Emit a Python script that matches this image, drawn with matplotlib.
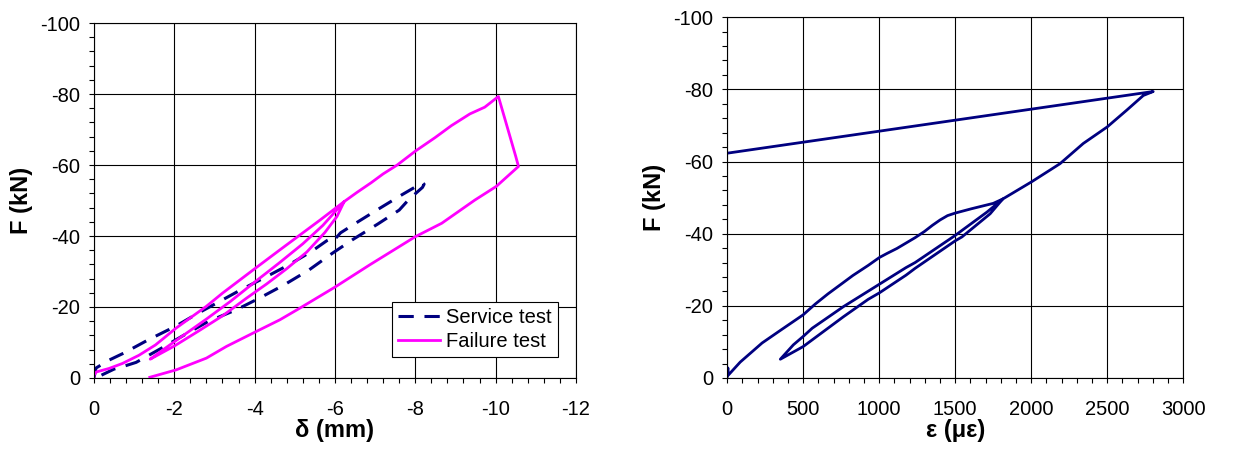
import matplotlib
matplotlib.use("Agg")
import matplotlib.pyplot as plt
from matplotlib.ticker import MultipleLocator

plt.rcParams["font.family"] = ["Liberation Sans", "DejaVu Sans"]
plt.rcParams["axes.unicode_minus"] = False

# --- left panel: load vs. deflection (mm, kN) ---
service_d = [0, -0.05, -0.37, -0.74, -1.36, -2.02, -2.6, -3.07, -3.65, -4.22, -4.84,
             -5.41, -5.8, -5.9, -5.96, -6.14, -6.6, -7.07, -7.65, -8.18, -8.22, -8.18,
             -7.84, -7.6, -7.07, -6.43, -5.93, -5.35, -4.73, -4.12, -3.54, -2.84, -2.26,
             -1.65, -1.05, -0.8, -0.5, -0.15, 0]
service_f = [0, -2.8, -5.0, -7.0, -10.8, -14.5, -18.3, -21.2, -24.8, -28.1, -31.8,
             -35.6, -38.7, -39.2, -38.6, -40.9, -44.2, -47.5, -51.5, -55.0, -54.6, -53.7,
             -50.3, -47.3, -43.4, -38.9, -35.1, -30.4, -26.2, -22.5, -19.2, -15.9, -12.2,
             -8.2, -4.4, -3.5, -2.5, -0.6, 0]

failure_d = [0, 0, -0.06, -0.38, -0.71, -1.12, -1.53, -2.05, -2.8, -3.2, -3.97, -4.63,
             -5.13, -5.63, -6.23,
             -5.7, -5.2, -4.6, -4.0, -3.4, -2.8, -2.3, -1.8, -1.4,
             -2.0, -2.6, -3.2, -3.8, -4.3, -4.8, -5.3, -5.75, -6.05, -6.23,
             -6.55, -6.9, -7.2, -7.55, -8.0, -8.49, -8.9, -9.36, -9.73, -10.07,
             -10.5, -10.57, -10.02, -9.48, -8.66, -8.0, -6.87, -6.0, -5.13, -4.63,
             -3.97, -3.3, -2.8, -2.05, -1.55, -1.39]
failure_f = [0, -0.8, -1.7, -2.7, -4.1, -6.4, -9.3, -14.1, -20.2, -23.9, -30.5, -36.1,
             -40.3, -44.5, -49.7,
             -43.0, -37.8, -32.3, -27.0, -21.6, -16.6, -12.6, -8.6, -5.3,
             -9.0, -13.2, -17.5, -22.5, -26.5, -30.8, -35.5, -41.0, -45.5, -49.7,
             -52.3, -55.0, -57.5, -60.0, -63.9, -67.7, -71.1, -74.4, -76.3, -79.3,
             -62.5, -59.6, -54.0, -50.1, -43.6, -39.8, -31.9, -25.6, -19.7, -16.4,
             -12.7, -8.9, -5.6, -2.3, -0.7, -0.2]

# --- right panel: load vs. strain (microstrain, kN) ---
strain_e = [0, 5, 8, 86, 230, 354, 500, 580, 663, 750, 827, 928, 1002, 1051, 1117,
            1177, 1237, 1298, 1350, 1401, 1450, 1500, 1607, 1751, 1813,
            1730, 1545, 1500, 1237, 1177, 1002, 928, 766, 500, 350,
            436, 500, 560, 766, 1002, 1177, 1237, 1500, 1545, 1710, 1813,
            2004, 2190, 2343, 2501, 2628, 2738, 2803, 0]
strain_f = [-0.3, -2.8, -0.8, -4.4, -9.7, -13.3, -17.5, -20.5, -23.3, -26.0, -28.4,
            -31.2, -33.4, -34.5, -35.9, -37.4, -38.9, -40.6, -42.3, -43.8, -45.0, -45.7,
            -46.9, -48.4, -49.6,
            -45.5, -39.1, -38.0, -30.4, -28.5, -23.6, -21.8, -17.0, -8.7, -5.2,
            -9.2, -11.5, -13.8, -19.8, -26.0, -30.6, -32.0, -39.5, -40.9, -46.0, -49.6,
            -54.4, -59.4, -65.0, -69.6, -74.2, -78.3, -79.4, -62.3]

navy = "#000080"
magenta = "#FF00FF"

fig = plt.figure(figsize=(12.58, 4.51), dpi=100)
ax1 = fig.add_axes([0.0747, 0.1619, 0.3831, 0.787])
ax2 = fig.add_axes([0.578, 0.1619, 0.3625, 0.800])

ax1.plot(service_d, service_f, color=navy, lw=2.2, dashes=(5, 3.5), label="Service test")
ax1.plot(failure_d, failure_f, color=magenta, lw=2.0, label="Failure test")
ax2.plot(strain_e, strain_f, color=navy, lw=2.0)


def style(ax, xmaj, xmin, xlabel):
    ax.set_ylim(0, -100)
    ax.yaxis.set_major_locator(MultipleLocator(20))
    ax.yaxis.set_minor_locator(MultipleLocator(4))
    ax.xaxis.set_major_locator(MultipleLocator(xmaj))
    ax.xaxis.set_minor_locator(MultipleLocator(xmin))
    ax.grid(which="major", color="black", lw=0.8)
    ax.tick_params(which="both", direction="out", length=3.5, width=0.8)
    ax.tick_params(axis="y", which="major", labelsize=14.5, pad=6.5)
    ax.tick_params(axis="x", which="major", labelsize=14.5, pad=12)
    for s in ax.spines.values():
        s.set_linewidth(0.8)
    ax.set_ylabel("F (kN)", fontsize=17, fontweight="bold", labelpad=5)
    ax.set_xlabel(xlabel, fontsize=17, fontweight="bold", labelpad=0)


ax1.set_xlim(0, -12)
style(ax1, 2, 0.4, "δ (mm)")
ax2.set_xlim(0, 3000)
style(ax2, 500, 100, "ε (με)")

leg = ax1.legend(loc="lower right", bbox_to_anchor=(0.963, 0.059), borderaxespad=0,
                 fontsize=14.5, handlelength=2.1, fancybox=False, framealpha=1,
                 edgecolor="black", borderpad=0.3, labelspacing=0.25, handletextpad=0.3)
leg.get_frame().set_linewidth(0.8)

fig.savefig("out.png", dpi=100)
